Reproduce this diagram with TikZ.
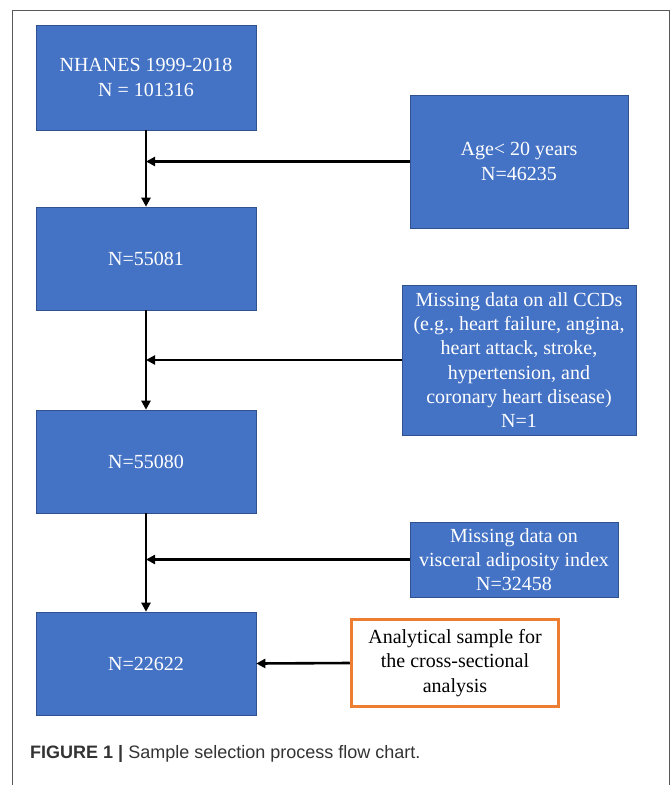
\documentclass[tikz,border=0pt]{standalone}
\usepackage{fontspec}
\setmainfont{Liberation Serif}
\newfontfamily\capfont{Liberation Sans}
\usetikzlibrary{arrows.meta}
\definecolor{boxblue}{HTML}{4472C4}
\definecolor{boxedge}{HTML}{2F528F}
\definecolor{boxorange}{HTML}{ED7D31}
\definecolor{capgray}{HTML}{333333}
\begin{document}
\begin{tikzpicture}[x=1pt,y=-1pt,
  bluebox/.style={draw=boxedge, line width=0.6pt, fill=boxblue, text=white, align=center,
    font=\fontsize{20}{24.2}\selectfont, inner sep=0pt},
  orangebox/.style={draw=boxorange, line width=3.5pt, fill=white, text=black, align=center,
    font=\fontsize{20}{24.2}\selectfont, inner sep=0pt},
  flow/.style={line width=2.6pt, -{Triangle[length=9pt,width=9pt]}}]
\useasboundingbox (0,0) rectangle (672,785);
\fill[white] (0,0) rectangle (672,785);
\draw[gray!70!black, line width=1pt] (12,785) -- (12,10) -- (669,10) -- (669,785);

\node[bluebox, minimum width=220pt, minimum height=105pt] (b1) at (146,77.5) {NHANES 1999-2018\\N = 101316};
\node[bluebox, minimum width=218pt, minimum height=133pt] (b2) at (519,161.5) {Age< 20 years\\N=46235};
\node[bluebox, minimum width=234pt, minimum height=150pt] (b4) at (519,360) {Missing data on all CCDs\\(e.g., heart failure, angina,\\heart attack, stroke,\\hypertension, and\\coronary heart disease)\\N=1};
\node[bluebox, minimum width=220pt, minimum height=103pt] (b3) at (146,258.5) {N=55081};
\node[bluebox, minimum width=220pt, minimum height=103pt] (b5) at (146,461.5) {N=55080};
\node[bluebox, minimum width=208pt, minimum height=75pt] (b6) at (514,559.5) {Missing data on\\visceral adiposity index\\N=32458};
\node[bluebox, minimum width=220pt, minimum height=103pt] (b7) at (146,663.5) {N=22622};
\node[orangebox, minimum width=207pt, minimum height=87pt] (o) at (455,663) {Analytical sample for\\the cross-sectional\\analysis};

\draw[flow] (b1.south) -- (b3.north);
\draw[flow] (b3.south) -- (b5.north);
\draw[flow] (b5.south) -- (b7.north);
\draw[flow] (b2.west) -- (b2.west -| b1.south);
\draw[flow] (b4.west) -- (b4.west -| b1.south);
\draw[flow] (b6.west) -- (b6.west -| b1.south);
\draw[flow] (o.west) -- (b7.east);

\node[anchor=base west, inner sep=0pt, text=capgray, font=\capfont\fontsize{18}{22}\selectfont] (cap) at (30,758)
  {\textbf{FIGURE 1} \textbf{|} Sample selection process flow chart.};
\end{tikzpicture}
\end{document}
